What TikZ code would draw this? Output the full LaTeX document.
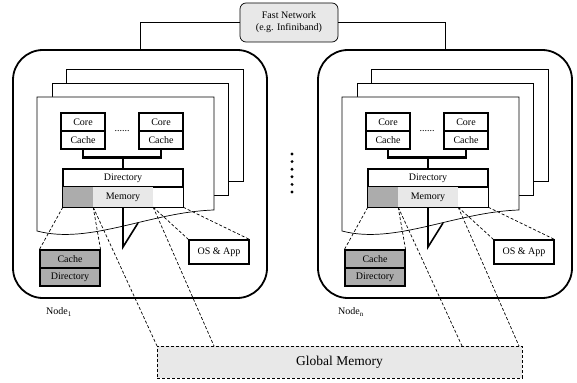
\documentclass[tikz,border=0pt]{standalone}
\usepackage{fontspec}
\setmainfont{Liberation Serif}
\usetikzlibrary{positioning}
\definecolor{cDark}{RGB}{172,172,172}
\definecolor{cLight}{RGB}{232,232,232}
\tikzset{
	netbox/.style={rectangle, rounded corners=6pt, draw=black, line width=0.7pt, fill=cLight, align=center, inner sep=0pt},
	nodebox/.style={draw=black, line width=1.8pt, rounded corners=30pt, fill=white},
	page/.style={draw=black, line width=0.7pt, fill=white},
	cell/.style={rectangle, draw=black, line width=1.1pt, inner sep=0pt, fill=white},
	seg/.style={rectangle, inner sep=0pt, minimum height=20pt},
	bus/.style={line width=2.4pt},
	tail/.style={line width=1.6pt},
	share/.style={line width=0.7pt, dash pattern=on 3pt off 2pt},
	gmem/.style={rectangle, draw=black, line width=0.9pt, dash pattern=on 3pt off 2pt, fill=cLight, inner sep=0pt},
}

\begin{document}
\begin{tikzpicture}[x=1pt, y=-1pt, font=\fontsize{10}{12}\selectfont]
	\useasboundingbox (0,0) rectangle (577,382);
	\node[netbox, minimum width=98, minimum height=39] (net) at (289,22.5) {Fast Network\\(e.g. Infiniband)};
	\node[gmem, minimum width=365, minimum height=32, font=\fontsize{13.5}{16}\selectfont] (gm) at (339.5,362) {Global Memory};
	% one machine, drawn twice
	\foreach \o/\n/\lx in {0/1/59, 305/n/46} {
		\begin{scope}[shift={(\o,0)}]
			\draw[nodebox] (13,50) rectangle (267,298);
			\coordinate (top\n) at (140,50);
			\draw[page] (66,69) rectangle (243,181);
			\draw[page] (52,83) rectangle (228,195);
			\draw[page] (37,97) -- (214,97) -- (214,210) .. controls (150,212) and (90,245) .. (37,231) -- cycle;
			\node[cell, minimum width=44, minimum height=18] (corel\n) at (83,122) {Core};
			\node[cell, minimum width=44, minimum height=18] (cachel\n) at (83,140) {Cache};
			\node[cell, minimum width=44, minimum height=18] (corer\n) at (161,122) {Core};
			\node[cell, minimum width=44, minimum height=18] (cacher\n) at (161,140) {Cache};
			\node (dots\n) at (122,131) {......};
			\node[cell, minimum width=120, minimum height=18] (dir\n) at (123,178) {Directory};
			\node[seg, minimum width=30, fill=cDark] (memA\n) at (78,197) {};
			\node[seg, minimum width=60, fill=cLight] (memB\n) at (123,197) {Memory};
			\node[seg, minimum width=30] (memC\n) at (168,197) {};
			\draw[line width=1.1pt] (memA\n.north west) rectangle (memC\n.south east);
			\draw[bus] (cachel\n.south) -- ++(0,8) -| (cacher\n.south);
			\draw[bus] (dir\n.north) -- ++(0,-12);
			\coordinate (tip\n) at (123,247);
			\coordinate (tipend\n) at (138,223);
			\draw[tail] (memB\n.south) -- (tip\n) -- (tipend\n);
			\node[cell, minimum width=60, minimum height=18, fill=cDark] (cdc\n) at (70,259) {Cache};
			\node[cell, minimum width=60, minimum height=18, fill=cDark] (cdd\n) at (70,277) {Directory};
			\node[cell, minimum width=60, minimum height=24] (os\n) at (219,252) {OS \& App};
			\node (lbl\n) at (\lx,312) {Node\textsubscript{\n}};
			\coordinate (gmA\n) at (157,346);
			\coordinate (gmB\n) at (214,346);
			\draw[share] (memA\n.south west) -- (cdc\n.north west);
			\draw[share] (memA\n.south east) -- (cdc\n.north east);
			\draw[share] (memA\n.south east) -- (gmA\n);
			\draw[share] (memB\n.south east) -- (gmB\n);
			\draw[share] (memB\n.south east) -- (os\n.north west);
			\draw[share] (memC\n.south east) -- (os\n.north east);
		\end{scope}
	}
	\draw[line width=0.7pt] (net.west) -| (top1);
	\draw[line width=0.7pt] (net.east) -| (topn);
	% dots between the machines
	\foreach \k in {0,...,5}
		\fill (292,154+7.6*\k) circle (1.6);
\end{tikzpicture}
\end{document}
